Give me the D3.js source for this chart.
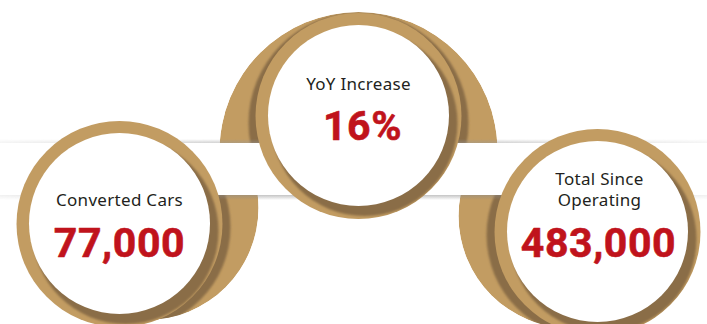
<!DOCTYPE html>
<html>
<head>
<meta charset="utf-8">
<script src="https://cdn.jsdelivr.net/npm/d3@7"></script>
<style>
  html, body { margin: 0; padding: 0; background: #fff; overflow: hidden; }
  svg { display: block; }
</style>
</head>
<body>
<svg id="chart" width="707" height="324"></svg>
<script>
// ---- data ----
const categories = ["converted", "yoy", "total"];
const titleLines = [["Converted Cars"], ["YoY Increase"], ["Total Since", "Operating"]];
const values = [77000, 16, 483000];
const suffixes = ["", "%", ""];

// ---- styling / layout ----
const W = 707, H = 324;
const gold = "#c29c62", goldDark = "#8a6d46", red = "#c0131c", ink = "#231f20";
const R = 103;          // outer radius of each badge ring
const rWhite = 90.5;    // white face
const bandTop = 143, bandBottom = 195;

const x = d3.scalePoint().domain(categories).range([119.5, 597.5]);
const y = d3.scaleOrdinal().domain(categories).range([224, 116, 232]);
const fmt = d3.format(",");

const badges = categories.map((c, i) => ({
  key: c,
  i,
  side: i === 0 ? "left" : i === 1 ? "centre" : "right",
  cx: x(c),
  cy: y(c),
  lines: titleLines[i],
  text: fmt(values[i]) + suffixes[i]
}));

const svg = d3.select("#chart");
const defs = svg.append("defs");

defs.append("clipPath").attr("id", "above-band")
  .append("rect").attr("x", 0).attr("y", 0).attr("width", W).attr("height", bandTop);
defs.append("clipPath").attr("id", "below-band")
  .append("rect").attr("x", 0).attr("y", bandBottom).attr("width", W).attr("height", H - bandBottom);

defs.append("filter").attr("id", "soft").attr("x", "-10%").attr("y", "-10%").attr("width", "120%").attr("height", "120%")
  .append("feGaussianBlur").attr("stdDeviation", 0.9);

// band shadow: strongest in the middle, fading toward the page edges
const hg = defs.append("linearGradient").attr("id", "band-fade").attr("x1", 0).attr("x2", 1).attr("y1", 0).attr("y2", 0);
hg.append("stop").attr("offset", 0).attr("stop-color", "#fff").attr("stop-opacity", 0.25);
hg.append("stop").attr("offset", 0.3).attr("stop-color", "#fff").attr("stop-opacity", 1);
hg.append("stop").attr("offset", 0.7).attr("stop-color", "#fff").attr("stop-opacity", 1);
hg.append("stop").attr("offset", 1).attr("stop-color", "#fff").attr("stop-opacity", 0.25);
defs.append("mask").attr("id", "band-mask").attr("maskUnits", "userSpaceOnUse")
  .attr("x", 0).attr("y", 0).attr("width", W).attr("height", H)
  .append("rect").attr("width", W).attr("height", H).attr("fill", "url(#band-fade)");

const topShade = defs.append("linearGradient").attr("id", "top-shade").attr("x1", 0).attr("x2", 0).attr("y1", 0).attr("y2", 1);
topShade.append("stop").attr("offset", 0).attr("stop-color", "#9a9a9a").attr("stop-opacity", 0);
topShade.append("stop").attr("offset", 1).attr("stop-color", "#9a9a9a").attr("stop-opacity", 0.45);
const botShade = defs.append("linearGradient").attr("id", "bot-shade").attr("x1", 0).attr("x2", 0).attr("y1", 0).attr("y2", 1);
botShade.append("stop").attr("offset", 0).attr("stop-color", "#8a8a8a").attr("stop-opacity", 0.5);
botShade.append("stop").attr("offset", 1).attr("stop-color", "#8a8a8a").attr("stop-opacity", 0);

// back plate geometry for each badge
function backPlate(b) {
  if (b.side === "centre") return { cx: b.cx, cy: b.cy + 35, r: R + 36 };
  const dx = b.side === "left" ? 27 : -27;
  return { cx: b.cx + dx, cy: b.cy - 16, r: 112 };
}
function plateShadow(b) {
  if (b.side === "centre") return { cx: b.cx, cy: b.cy + 7, r: R + 7 };
  const dx = b.side === "left" ? 8 : -8;
  return { cx: b.cx + dx, cy: b.cy + 3, r: R };
}

badges.forEach(b => {
  const p = backPlate(b);
  defs.append("clipPath").attr("id", "plate-" + b.i)
    .append("circle").attr("cx", p.cx).attr("cy", p.cy).attr("r", p.r);
  defs.append("clipPath").attr("id", "ring-" + b.i)
    .append("circle").attr("cx", b.cx).attr("cy", b.cy).attr("r", R);
});

// ---- back plates (behind the band) ----
const plates = svg.append("g").attr("class", "plates");
badges.forEach(b => {
  const p = backPlate(b), s = plateShadow(b);
  const g = plates.append("g")
    .attr("clip-path", b.side === "centre" ? "url(#above-band)" : "url(#below-band)")
    .append("g").attr("clip-path", "url(#plate-" + b.i + ")");
  g.append("circle").attr("cx", p.cx).attr("cy", p.cy).attr("r", p.r).attr("fill", gold);
  g.append("circle").attr("cx", s.cx).attr("cy", s.cy).attr("r", s.r)
    .attr("fill", goldDark).attr("filter", "url(#soft)");
});

// ---- white band across the page ----
const band = svg.append("g").attr("class", "band");
const shades = band.append("g").attr("mask", "url(#band-mask)");
shades.append("rect").attr("x", 0).attr("y", bandTop - 4).attr("width", W).attr("height", 4).attr("fill", "url(#top-shade)");
shades.append("rect").attr("x", 0).attr("y", bandBottom).attr("width", W).attr("height", 5).attr("fill", "url(#bot-shade)");
band.append("rect").attr("x", 0).attr("y", bandTop).attr("width", W).attr("height", bandBottom - bandTop).attr("fill", "#fff");

// ---- badge faces ----
const face = svg.append("g").attr("class", "badges")
  .selectAll("g").data(badges).join("g");

face.append("circle").attr("cx", d => d.cx).attr("cy", d => d.cy).attr("r", R).attr("fill", gold);
face.append("g").attr("clip-path", d => "url(#ring-" + d.i + ")")
  .append("circle").attr("cx", d => d.cx + 6).attr("cy", d => d.cy + 7).attr("r", 93)
  .attr("fill", goldDark).attr("filter", "url(#soft)");
face.append("circle").attr("cx", d => d.cx).attr("cy", d => d.cy - 0.5).attr("r", rWhite).attr("fill", "#fff");

// ---- texts ----
const labelFont = "'Noto Sans', 'Open Sans', sans-serif";
const valueFont = "Roboto, 'Noto Sans', sans-serif";
const labelBase = { left: [206], centre: [90], right: [185, 206] };
const valueBase = { left: 257, centre: 140, right: 257 };
const valueShift = { left: 0, centre: 4, right: 1 };

face.each(function (d) {
  const g = d3.select(this);
  d.lines.forEach((line, k) => {
    g.append("text")
      .attr("x", d.cx + (d.side === "right" ? 2 : 0))
      .attr("y", labelBase[d.side][k])
      .attr("text-anchor", "middle")
      .attr("font-family", labelFont)
      .attr("font-size", 17)
      .attr("letter-spacing", 0.3)
      .attr("fill", ink)
      .text(line);
  });
  g.append("text")
    .attr("x", d.cx + valueShift[d.side])
    .attr("y", valueBase[d.side])
    .attr("text-anchor", "middle")
    .attr("font-family", valueFont)
    .attr("font-weight", 700)
    .attr("font-size", 41)
    .attr("letter-spacing", 0.6)
    .attr("fill", red)
    .attr("stroke", red)
    .attr("stroke-width", 0.6)
    .attr("stroke-linejoin", "round")
    .text(d.text);
});
</script>
</body>
</html>
